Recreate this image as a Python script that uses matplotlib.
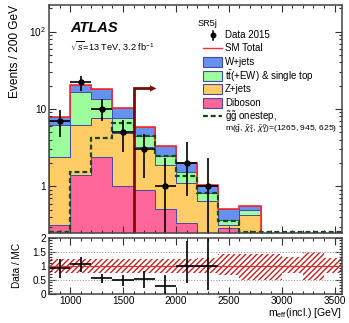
import numpy as np
import matplotlib
matplotlib.use("Agg")
import matplotlib.pyplot as plt
from matplotlib.patches import Rectangle
from matplotlib.ticker import FixedLocator, FixedFormatter, MultipleLocator, LogLocator, NullFormatter

plt.rcParams['font.family'] = ['Liberation Sans', 'DejaVu Sans']
plt.rcParams['mathtext.fontset'] = 'custom'
plt.rcParams['mathtext.rm'] = 'Liberation Sans'
plt.rcParams['mathtext.it'] = 'Liberation Sans:italic'
plt.rcParams['mathtext.bf'] = 'Liberation Sans:bold'
plt.rcParams['hatch.linewidth'] = 1.0

# binning: 200 GeV bins, 800 -> 3600
edges = np.arange(800, 3601, 200)

# background components (events / bin)
diboson = [0.32, 1.4, 2.4, 1.0, 0.89, 0.51, 0.34, 0.1, 0.29, 0.02, 0, 0, 0, 0]
zjets   = [2.08, 4.8, 5.3, 3.9, 2.31, 1.39, 0.75, 0.55, 0.03, 0.40, 0, 0, 0, 0]
ttbar   = [3.8, 10.2, 5.8, 2.8, 1.3, 0.55, 0.44, 0.16, 0.05, 0.07, 0, 0, 0, 0]
wjets   = [1.7, 3.9, 4.5, 2.7, 1.4, 0.9, 0.48, 0.22, 0.14, 0.07, 0, 0, 0, 0]

# signal gg onestep (1265, 945, 625)
signal = [0.0, 1.54, 4.2, 6.6, 4.5, 2.45, 1.36, 0.81, 0.36, 0.0, 0.0, 0.0, 0.0, 0.0]

# data 2015
data_x  = [900, 1100, 1300, 1500, 1700, 1900, 2100, 2300]
data_y  = [7, 22, 10, 5, 3, 1, 2, 1]
data_hi = [9.7, 26.9, 13.3, 7.2, 4.7, 2.3, 3.7, 2.35]
data_lo = [4.4, 17.3, 6.9, 2.8, 1.3, 0.0, 0.75, 0.0]

# ratio panel
ratio_y  = [0.91, 1.04, 0.54, 0.49, 0.51, 0.28, 1.0, 1.0]
ratio_hi = [1.22, 1.32, 0.70, 0.68, 0.80, 0.68, 1.89, 2.2]
ratio_lo = [0.56, 0.77, 0.38, 0.26, 0.20, 0.0, 0.38, 0.14]
band_lo = [0.75, 0.75, 0.75, 0.75, 0.75, 0.75, 0.75, 0.74, 0.65, 0.47, 0.47, 0.72, 0.47, 0.74]
band_hi = [1.25, 1.25, 1.25, 1.25, 1.25, 1.25, 1.25, 1.27, 1.42, 1.41, 1.41, 1.30, 1.50, 1.29]

cut_x = 1600
cut_y = 18.4

ymin, ymax = 0.25, 220
xmin, xmax = 800, 3570

c_w = '#6592f0'
c_tt = '#9cff9c'
c_z = '#ffcc66'
c_vv = '#ff6699'
c_edge = '#4848a8'
c_tot = '#ff2a2a'
c_sig = '#0f4d0f'
c_cut = '#7a0a0a'

fig = plt.figure(figsize=(3.49, 3.23), dpi=100)
ax = fig.add_axes([49/349, 1-233/323, 293/349, 228/323])
rax = fig.add_axes([49/349, 1-293.5/323, 293/349, 55.8/323])

# stacked backgrounds
base = np.full(len(diboson), 1e-3)
for vals, col in [(diboson, c_vv), (zjets, c_z), (ttbar, c_tt), (wjets, c_w)]:
    top = base + np.array(vals)
    ax.stairs(top, edges, baseline=base, fill=True, facecolor=col,
              edgecolor=c_edge, lw=0.7)
    base = top
total = base
ax.stairs(np.where(total > 0.01, total, 1e-3), edges, color=c_tot, lw=1.2, baseline=1e-3)

# signal, drawn at the frame bottom where below range
ax.stairs(np.maximum(signal, 0.257), edges, baseline=None, color=c_sig, lw=1.6,
          linestyle=(0, (2.2, 1.3)))

# cut arrow
ax.plot([cut_x, cut_x, cut_x + 160], [ymin, cut_y, cut_y], color=c_cut, lw=2.0,
        solid_capstyle='butt', solid_joinstyle='miter')
ax.annotate('', xy=(cut_x + 215, cut_y), xytext=(cut_x + 120, cut_y),
            arrowprops=dict(arrowstyle='-|>', color=c_cut, lw=0.1,
                            mutation_scale=11, shrinkA=0, shrinkB=0))

# data
dy = np.array(data_y, float)
ax.errorbar(data_x, dy, xerr=100,
            yerr=[dy - np.maximum(data_lo, 1e-3), np.array(data_hi) - dy],
            fmt='o', color='black', ms=3.6, lw=1.2, capsize=0)

ax.set_yscale('log')
ax.set_xlim(xmin, xmax)
ax.set_ylim(ymin, ymax)
ax.yaxis.set_major_locator(FixedLocator([1, 10, 100]))
ax.yaxis.set_major_formatter(FixedFormatter(['1', '10', '$10^{2}$']))
ax.yaxis.set_minor_locator(LogLocator(base=10, subs=np.arange(2, 10)))
ax.yaxis.set_minor_formatter(NullFormatter())
ax.xaxis.set_major_locator(MultipleLocator(500))
ax.xaxis.set_minor_locator(MultipleLocator(100))
ax.tick_params(labelbottom=False)

# ratio panel
for g in [0.5, 1.0, 1.5]:
    rax.axhline(g, color='#9a9a9a', lw=0.8, ls=(0, (1, 1.5)))
rax.stairs(band_hi, edges, baseline=band_lo, fill=True, facecolor='none',
           edgecolor='#c42020', hatch='//////', lw=0)
rax.axhline(1.0, color='#e03030', lw=0.8)
ry = np.array(ratio_y)
rax.errorbar(data_x, ry, xerr=100,
             yerr=[ry - np.array(ratio_lo), np.array(ratio_hi) - ry],
             fmt='none', ecolor='black', lw=1.2, capsize=0)
rax.set_xlim(xmin, xmax)
rax.set_ylim(0, 2)
rax.yaxis.set_major_locator(FixedLocator([0, 0.5, 1, 1.5, 2]))
rax.yaxis.set_major_formatter(FixedFormatter(['0', '0.5', '1', '1.5', '2']))
rax.yaxis.set_minor_locator(MultipleLocator(0.1))
rax.xaxis.set_major_locator(MultipleLocator(500))
rax.xaxis.set_minor_locator(MultipleLocator(100))

for a in (ax, rax):
    a.tick_params(which='both', direction='in', top=True, right=True, width=0.8,
                  colors='#333333', labelcolor='black')
    a.tick_params(which='major', length=5, labelsize=7.2, pad=2)
    a.tick_params(which='minor', length=2.5)
    for s in a.spines.values():
        s.set_linewidth(1.1)
        s.set_color('#444444')

# texts
fig.text(15/349, 1-5/323, 'Events / 200 GeV', rotation=90, ha='center', va='top', fontsize=8.6)
fig.text(17/349, 1-265/323, 'Data / MC', rotation=90, ha='center', va='center', fontsize=7.2)
fig.text(342/349, 1-313/323, r'm$_{\rm eff}$(incl.) [GeV]', ha='right', va='center', fontsize=7.6)

tr = ax.transAxes
ax.text(0.072, 0.900, 'ATLAS', transform=tr, fontsize=10.5, fontweight='bold',
        fontstyle='italic', va='center')
ax.text(0.072, 0.818, r'$\sqrt{s}$=13 TeV, 3.2 fb$^{-1}$', transform=tr, fontsize=6.6, va='center')
ax.text(0.507, 0.920, 'SR5j', transform=tr, fontsize=6.6, va='center')

rows = [0.868, 0.810, 0.749, 0.689, 0.630, 0.572, 0.513, 0.455]
labels = ['Data 2015', 'SM Total', 'W+jets', r't$\bar{\rm t}$(+EW) & single top', 'Z+jets',
          'Diboson', r'$\tilde{\rm g}\tilde{\rm g}$ onestep,',
          r'm($\tilde{\rm g}$, $\tilde{\chi}_1^{\pm}$, $\tilde{\chi}_1^{0}$)=(1265, 945, 625)']
sizes = [7.0] * 7 + [6.1]
bx0, bx1, tx = 0.527, 0.590, 0.601
for yy, lab, fs in zip(rows, labels, sizes):
    ax.text(tx, yy, lab, transform=tr, fontsize=fs, va='center')
bxm = (bx0 + bx1) / 2
ax.plot([bxm], [rows[0]], 'o', color='black', ms=3.2, transform=tr, clip_on=False)
ax.plot([bxm, bxm], [rows[0] - 0.02, rows[0] + 0.02], color='black', lw=1.1, transform=tr)
ax.plot([bx0, bx1], [rows[1], rows[1]], color=c_tot, lw=1.0, transform=tr)
for yy, col in zip(rows[2:6], [c_w, c_tt, c_z, c_vv]):
    ax.add_patch(Rectangle((bx0, yy - 0.022), bx1 - bx0, 0.044, transform=tr,
                           facecolor=col, edgecolor=c_edge, lw=0.8))
ax.plot([bx0, bx1], [rows[6], rows[6]], color=c_sig, lw=1.6, ls=(0, (2.2, 1.3)), transform=tr)

fig.savefig('out.png', dpi=100)
